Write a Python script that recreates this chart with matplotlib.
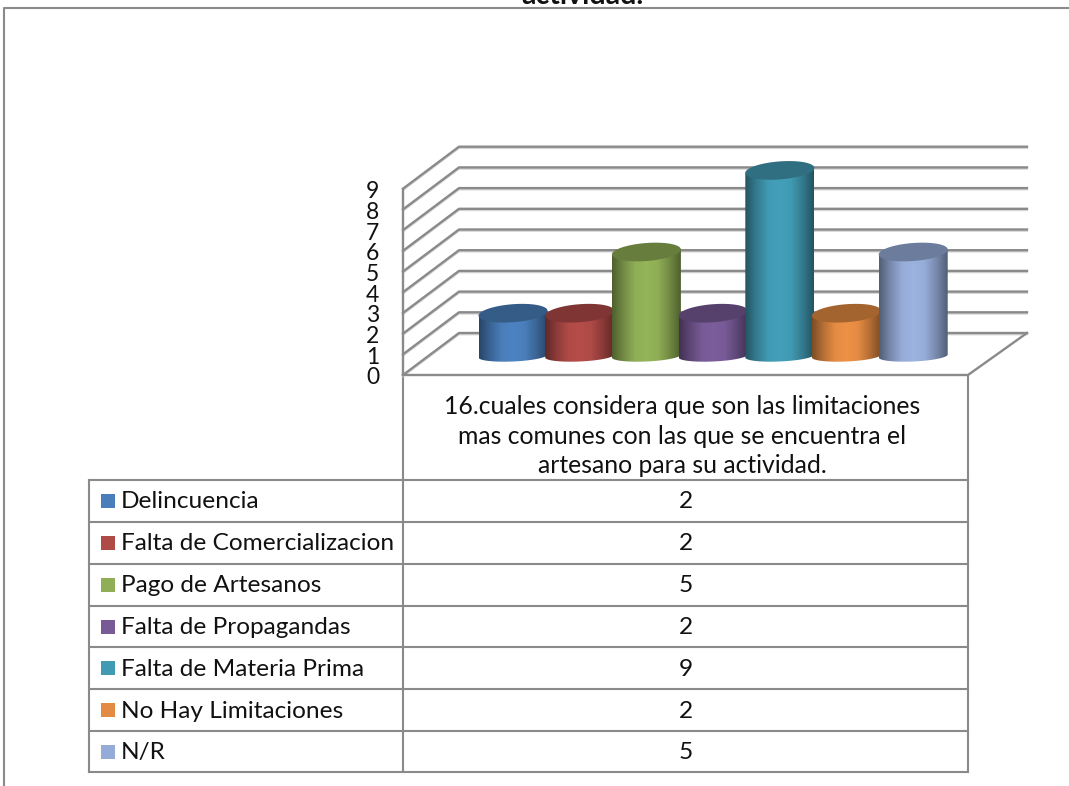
import numpy as np
import matplotlib
matplotlib.use("Agg")
import matplotlib.pyplot as plt
from matplotlib.colors import LinearSegmentedColormap, to_rgb
from matplotlib.patches import Polygon, Rectangle
from matplotlib.transforms import ScaledTranslation

plt.rcParams['font.family'] = ['Lato', 'DejaVu Sans']

categories = ["Delincuencia", "Falta de Comercializacion", "Pago de Artesanos",
              "Falta de Propagandas", "Falta de Materia Prima", "No Hay Limitaciones", "N/R"]
values = [2, 2, 5, 2, 9, 2, 5]
colors = ["#4A7EBB", "#AF4A47", "#8FAE55", "#775A96", "#419AB3", "#E48B43", "#96ACD8"]
y_ticks = [0, 1, 2, 3, 4, 5, 6, 7, 8, 9]
header = "16.cuales considera que son las limitaciones\nmas comunes con las que se encuentra el\nartesano para su actividad."
title_tail = "actividad."

W, H = 1069, 786
GRAY = "#8a8a8a"
PX_X = 66.7    # px per category
PX_Y = 20.7    # px per value unit

fig = plt.figure(figsize=(W / 100, H / 100), dpi=100)

# page axes in pixels, for frame and table
page = fig.add_axes([0, 0, 1, 1])
page.set_xlim(0, W)
page.set_ylim(H, 0)
page.axis("off")

# frame + title that is cut off by the page top
page.plot([4, 4, W], [H, 8, 8], color=GRAY, lw=1.5)
page.text(582, 4, title_tail, ha="center", va="baseline", fontsize=20.5, fontweight="bold", color="#111111")

# chart axes: x is category index, y is the value
ax = fig.add_axes([403 / W, (H - 375) / H, (1027 - 403) / W, 229 / H])
ax.set_xlim((403 - 513) / PX_X, (1027 - 513) / PX_X)
ax.set_ylim(0, 229 / PX_Y)
ax.patch.set_alpha(0)
for s in ax.spines.values():
    s.set_visible(False)
ax.set_xticks([])
ax.set_yticks(y_ticks)
ax.set_yticklabels([str(v) for v in y_ticks], fontsize=16.5, color="#111111")
ax.tick_params(axis="y", length=0, pad=17)
down = ScaledTranslation(0, -3 / 100, fig.dpi_scale_trans)
for lab in ax.get_yticklabels():
    lab.set_verticalalignment("center")
    lab.set_transform(lab.get_transform() + down)

x_left, x_right = ax.get_xlim()
dep_x = 56 / PX_X
dep_y = 42 / PX_Y

# walls
for v in y_ticks:
    ax.plot([x_left, x_left + dep_x, x_right], [v - 0.07, v + dep_y - 0.07, v + dep_y - 0.07],
            color="#d4d4d4", lw=1.3, clip_on=False, zorder=1)
    ax.plot([x_left, x_left + dep_x, x_right], [v, v + dep_y, v + dep_y],
            color=GRAY, lw=1.7, clip_on=False, zorder=2)
ax.plot([x_left, x_left], [0, y_ticks[-1]], color=GRAY, lw=1.7, clip_on=False, zorder=2)
floor_right = x_left + (968 - 403) / PX_X
ax.plot([x_left, floor_right, x_right], [0, 0, dep_y], color=GRAY, lw=1.7, clip_on=False, zorder=2)


def shade(c, f):
    return tuple(min(1, ch * f) for ch in to_rgb(c))


# cylinders
half_w = 34.5 / PX_X
base_y = 19 / PX_Y
t = np.linspace(0, 2 * np.pi, 120)
for i, (val, col) in enumerate(zip(values, colors)):
    top_y = base_y + (val * 20.4 + 2) / PX_Y
    z = 3 + i
    # front of the top ellipse and bottom arc close the body outline
    a = np.linspace(np.pi, 2 * np.pi, 60)
    bot_x = i + half_w * np.cos(a)
    bot_y = base_y + (5.5 * np.sin(a) + 1.5 * np.cos(a)) / PX_Y
    up_x = i + half_w * np.cos(a[::-1])
    up_y = top_y + 2.5 * np.cos(a[::-1]) / PX_Y
    body = Polygon(np.column_stack([np.r_[bot_x, up_x], np.r_[bot_y, up_y]]),
                   closed=True, transform=ax.transData, fc="none", ec="none")
    ax.add_patch(body)
    cmap = LinearSegmentedColormap.from_list("c", [shade(col, 0.55), shade(col, 0.8), col, shade(col, 1.04),
                                                   col, shade(col, 0.8), shade(col, 0.55)])
    im = ax.imshow(np.linspace(0, 1, 128).reshape(1, -1), cmap=cmap, aspect="auto", zorder=z,
                   extent=[i - half_w, i + half_w, base_y - 8 / PX_Y, top_y + 10 / PX_Y])
    im.set_clip_path(body)
    cap_x = i + half_w * np.cos(t)
    cap_y = top_y + (9 * np.sin(t) + 2.5 * np.cos(t)) / PX_Y
    ax.add_patch(Polygon(np.column_stack([cap_x, cap_y]), closed=True, fc=shade(col, 0.72), ec="none", zorder=z))
ax.set_xlim(x_left, x_right)
ax.set_ylim(0, 229 / PX_Y)

# data table
row_lines = [480, 522, 564, 606, 647, 689, 731, 772]
page.plot([403, 403], [375, 772], color=GRAY, lw=1.5)
page.plot([968, 968], [375, 772], color=GRAY, lw=1.5)
page.plot([89, 89], [480, 772], color=GRAY, lw=1.5)
for y in row_lines:
    page.plot([89, 968], [y, y], color=GRAY, lw=1.5)
page.text(682, 436, header, ha="center", va="center", fontsize=17.8, linespacing=1.35, color="#111111")
for i, (name, val, col) in enumerate(zip(categories, values, colors)):
    yc = (row_lines[i] + row_lines[i + 1]) / 2
    page.add_patch(Rectangle((101, yc - 7), 14, 14, fc=col, ec="none"))
    page.text(121, yc + 1, name, ha="left", va="center", fontsize=17.6, color="#111111")
    page.text(686, yc + 1, str(val), ha="center", va="center", fontsize=17.6, color="#111111")

fig.savefig("out.png", dpi=100)
